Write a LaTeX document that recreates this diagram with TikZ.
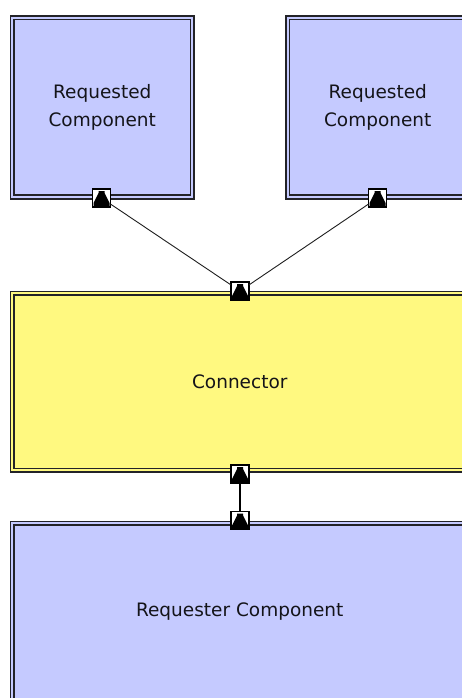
\documentclass[tikz,border=0pt]{standalone}
\usepackage{fontspec}
\setmainfont{DejaVu Sans}
\begin{document}
\begin{tikzpicture}[x=1pt,y=-1pt,
  every node/.style={inner sep=0pt,outer sep=0pt},
  component/.style={rectangle,draw=edgegray,double=compblue,double distance=2pt,
    line width=1.7pt,fill=compblue,text=textdark,align=center,
    font=\fontsize{18.5}{28}\selectfont},
  topcomp/.style={component,minimum width=180.1pt,minimum height=179.1pt},
  widecomp/.style={component,minimum width=455.1pt,minimum height=177.1pt},
  connbox/.style={widecomp,double=connyellow,fill=connyellow},
  port/.style={rectangle,draw=black,line width=1.1pt,fill=white,minimum size=18pt,
    path picture={
      \fill[black] ([shift={(-3,-7)}]path picture bounding box.center)
        -- ++(6,0) -- ++(0,2) -- ++(5,10) -- ++(0,5) -- ++(-16,0) -- ++(0,-5)
        -- ++(5,-10) -- cycle;
    }},
  link/.style={draw=linkgray,line width=0.9pt},
  stem/.style={draw=black,line width=1.4pt}
]
\definecolor{compblue}{RGB}{197,202,255}
\definecolor{connyellow}{RGB}{255,249,128}
\definecolor{edgegray}{RGB}{35,35,40}
\definecolor{textdark}{RGB}{20,20,25}
\definecolor{linkgray}{RGB}{30,30,30}

\useasboundingbox[fill=white] (0,0) rectangle (462,698);
\begin{scope}
\clip (0,0) rectangle (462,698);

% components and the connector
\node[topcomp] (reqA) at (102.25,107.25) {Requested\\Component};
\node[topcomp] (reqB) at (377.75,107.25) {Requested\\Component};
\node[connbox] (conn) at (239.75,381.75) {Connector};
\node[widecomp] (requester) at (239.75,612) {Requester Component};

% ports on the borders
\node[port] (pA) at (101.5,198) {};
\node[port] (pB) at (377.5,198) {};
\node[port] (pCt) at (240,291) {};
\node[port] (pCb) at (240,474) {};
\node[port] (pR) at (240,520.5) {};

% bindings between ports
\path[link] (pA) -- (pCt);
\path[link] (pB) -- (pCt);
\path[stem] (pCb) -- (pR);
\end{scope}
\end{tikzpicture}
\end{document}
